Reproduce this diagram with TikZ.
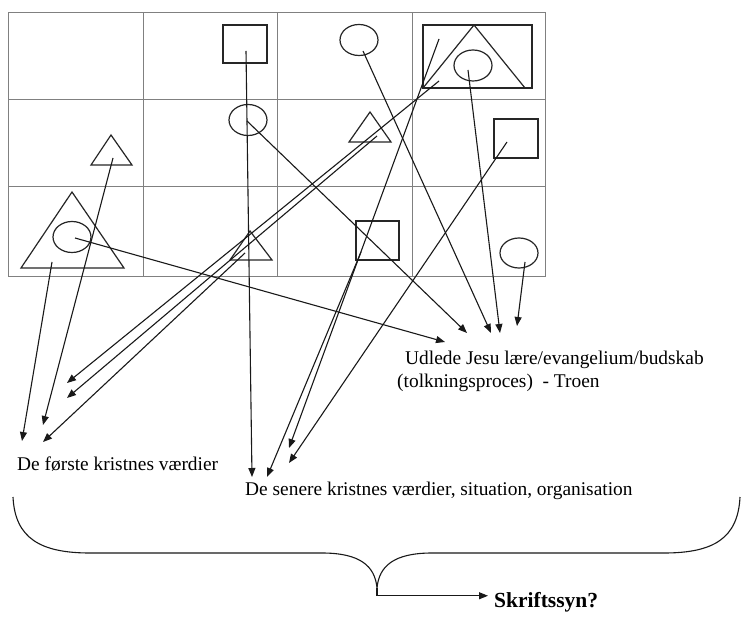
\documentclass[tikz,border=0pt]{standalone}
\usepackage{fontspec}
\setmainfont{Liberation Serif}
\usetikzlibrary{arrows.meta,shapes.geometric}
\begin{document}
\begin{tikzpicture}[x=1pt,y=-1pt,
  gridline/.style={draw=black!50,line width=1pt},
  shapeline/.style={draw=black!85,line width=1.2pt},
  boxshape/.style={shapeline,rectangle,inner sep=0pt},
  ovalshape/.style={shapeline,ellipse,inner sep=0pt,minimum width=38pt,minimum height=31pt},
  conn/.style={draw=black!90,line width=1.1pt,-{Triangle[length=9pt,width=7pt]}},
  lbl/.style={anchor=base west,inner sep=0pt,font=\fontsize{19.4}{23}\selectfont},
  boldlbl/.style={anchor=base west,inner sep=0pt,font=\fontsize{21.5}{25}\selectfont\bfseries}]
\useasboundingbox (0,0) rectangle (743,617);
\fill[white] (0,0) rectangle (743,617);
% grid
\draw[gridline] (8,13) rectangle (545,276);
\foreach \gx in {143,277,412} \draw[gridline] (\gx,13) -- (\gx,276);
\foreach \gy in {100,187} \draw[gridline] (8,\gy) -- (545,\gy);
% rectangles and squares
\node[boxshape,minimum width=44pt,minimum height=38pt] (sq1) at (245,44) {};
\node[boxshape,minimum width=109pt,minimum height=63pt] (rect4) at (477.5,56.5) {};
\node[boxshape,minimum width=44pt,minimum height=39pt] (sq24) at (516,138.5) {};
\node[boxshape,minimum width=43pt,minimum height=39pt] (sq33) at (377.5,240.5) {};
% ellipses
\node[ovalshape] (el1) at (359,40) {};
\node[ovalshape] (el4) at (473,65.5) {};
\node[ovalshape] (el2) at (248,120) {};
\node[ovalshape] (el31) at (72,237) {};
\node[ovalshape,minimum height=30pt] (el34) at (519,253) {};
% triangles
\draw[shapeline] (91,165) -- (111,135) -- (132,165) -- cycle;
\draw[shapeline] (21,268) -- (72,192) -- (124,268) -- cycle;
\draw[shapeline] (349,142) -- (370,112) -- (391,142) -- cycle;
\draw[shapeline] (230,260) -- (250,231) -- (272,260) -- cycle;
\draw[shapeline] (423,88) -- (474,25) -- (525,88);
% connector ends
\coordinate (tF1) at (52,262);   \coordinate (hF1) at (22,441);
\coordinate (tF2) at (113,158);  \coordinate (hF2) at (43,425);
\coordinate (tF3) at (439,81);   \coordinate (hF3) at (67,383);
\coordinate (tF4) at (377,136);  \coordinate (hF4) at (67,398);
\coordinate (tF5) at (245,253);  \coordinate (hF5) at (43,442);
\coordinate (tS1) at (246,51);   \coordinate (hS1) at (252,477);
\coordinate (tS2) at (361,252);  \coordinate (hS2) at (267,477);
\coordinate (tS3) at (439,39);   \coordinate (hS3) at (289,448);
\coordinate (tS4) at (507,142);  \coordinate (hS4) at (289,463);
\coordinate (tU1) at (75,238);   \coordinate (hU1) at (445,342);
\coordinate (tU2) at (247,121);  \coordinate (hU2) at (467,333);
\coordinate (tU3) at (363,51);   \coordinate (hU3) at (491,333);
\coordinate (tU4) at (468,70);   \coordinate (hU4) at (500,333);
\coordinate (tU5) at (525,262);  \coordinate (hU5) at (517,326);
\foreach \c in {F1,F2,F3,F4,F5,S1,S2,S3,S4,U1,U2,U3,U4,U5}
  \draw[conn] (t\c) -- (h\c);
% texts
\node[lbl] (udlede) at (405,364) {Udlede Jesu lære/evangelium/budskab};
\node[lbl] (tolk) at (397,387) {(tolkningsproces)\ \ - Troen};
\node[lbl] (forste) at (17,470) {De første kristnes værdier};
\node[lbl] (senere) at (245,495) {De senere kristnes værdier, situation, organisation};
\node[boldlbl] (skrift) at (494,607) {Skriftssyn?};
% brace
\coordinate (btip) at (377,588);
\draw[line width=1.1pt,draw=black!90] (13,497) .. controls (15,538) and (40,553) .. (90,553) -- (322,553)
  .. controls (360,553) and (375,566) .. (btip)
  .. controls (379,566) and (394,553) .. (432,553) -- (664,553)
  .. controls (714,553) and (738,538) .. (740,497);
\draw[line width=1.1pt,draw=black!90,-{Triangle[length=9pt,width=7pt]}] (btip) |- ([xshift=-6pt,yshift=6pt]skrift.west);
\end{tikzpicture}
\end{document}
